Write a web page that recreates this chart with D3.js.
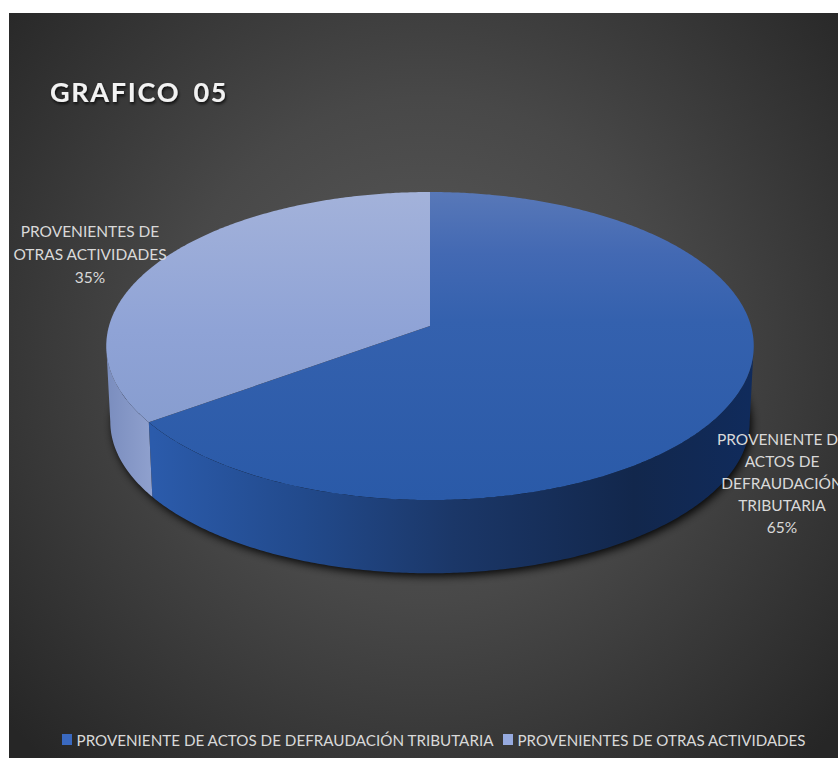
<!DOCTYPE html>
<html>
<head>
<meta charset="utf-8">
<script src="https://d3js.org/d3.v7.min.js"></script>
<style>
  html, body { margin: 0; padding: 0; background: #fff; }
  svg { display: block; }
  text { font-family: Lato, "Open Sans", sans-serif; }
</style>
</head>
<body>
<svg id="chart" width="838" height="758"></svg>
<script>
// data
var categories = ["PROVENIENTE DE ACTOS DE DEFRAUDACIÓN TRIBUTARIA", "PROVENIENTES DE OTRAS ACTIVIDADES"]
var values = [65, 35]
var sliceLabels = [
  ["PROVENIENTE DE", "ACTOS DE", "DEFRAUDACIÓN", "TRIBUTARIA", "65%"],
  ["PROVENIENTES DE", "OTRAS ACTIVIDADES", "35%"]
]
var titleText = "GRAFICO 05"

var svg = d3.select("#chart")
var defs = svg.append("defs")

function make_gradient(id, stops, x1, y1, x2, y2) {
  var g = defs.append("linearGradient")
    .attr("id", id)
    .attr("gradientUnits", "userSpaceOnUse")
    .attr("x1", x1).attr("y1", y1).attr("x2", x2).attr("y2", y2)
  stops.forEach(function(s) {
    g.append("stop").attr("offset", s[0]).attr("stop-color", s[1])
  })
}

make_gradient("topA", [[0, "#5878b8"], [0.2, "#4369b3"], [0.42, "#3461ae"], [1, "#2a5aa8"]], 0, 192, 0, 500)
make_gradient("topB", [[0, "#a3b2da"], [0.45, "#8fa3d6"], [1, "#8198ca"]], 0, 192, 0, 500)
make_gradient("sideA", [[0, "#2b5bab"], [0.25, "#224a8c"], [0.5, "#1b3768"], [0.8, "#12274c"], [1, "#102b5c"]], 153, 0, 754, 0)
make_gradient("sideB", [[0, "#7a8dbe"], [1, "#92a3d0"]], 106, 0, 158, 0)

var bg = defs.append("radialGradient")
  .attr("id", "bg")
  .attr("gradientUnits", "userSpaceOnUse")
  .attr("cx", 425).attr("cy", 350).attr("r", 560)
bg.append("stop").attr("offset", 0).attr("stop-color", "#5a5a5a")
bg.append("stop").attr("offset", 0.45).attr("stop-color", "#484848")
bg.append("stop").attr("offset", 1).attr("stop-color", "#262626")

defs.append("filter").attr("id", "blur")
  .attr("x", "-10%").attr("y", "-10%").attr("width", "120%").attr("height", "120%")
  .append("feGaussianBlur").attr("stdDeviation", 4)

var titleShadow = defs.append("filter").attr("id", "titleShadow")
titleShadow.append("feDropShadow")
  .attr("dx", 1).attr("dy", 2).attr("stdDeviation", 1.5)
  .attr("flood-color", "#000").attr("flood-opacity", 0.8)

svg.append("rect")
  .attr("x", 9).attr("y", 13)
  .attr("width", 829).attr("height", 745)
  .attr("fill", "url(#bg)")

// scales
var color = d3.scaleOrdinal().domain(categories).range(["A", "B"])
var legendColor = d3.scaleOrdinal().domain(categories).range(["#3a69c0", "#96aadf"])
var pie = d3.pie().sort(null).value(function(d) { return d.value })
var slices = pie(categories.map(function(c, i) { return {name: c, value: values[i]} }))

// perspective projection of the disc, angle 0 at the back, going clockwise
var cx = 430, cy = 326, persp = 0.13
var topDisc = {w: 321, h: 151.4, dy: 0}
var lowDisc = {w: 317, h: 149, dy: 76}

function project(a, disc) {
  var s = 1 + persp * Math.cos(a)
  return [cx + disc.w * Math.sin(a) / s, cy + disc.dy - disc.h * Math.cos(a) / s]
}

function arc_points(a0, a1, disc) {
  var n = Math.ceil(Math.abs(a1 - a0) / 0.01)
  return d3.range(n + 1).map(function(i) {
    return project(a0 + (a1 - a0) * i / n, disc)
  })
}

var line = d3.line()

// only the front of the wall is seen, between the two silhouette angles
var frontStart = Math.acos(-persp)
var frontEnd = 2 * Math.PI - frontStart

// shadow under the pie, pushed a bit to the right as in the original
svg.append("path")
  .attr("d", line(arc_points(0, 2 * Math.PI, lowDisc)) + "Z")
  .attr("fill", "#000")
  .attr("opacity", 0.9)
  .attr("filter", "url(#blur)")
  .attr("transform", "translate(2,3)")

// sides
svg.selectAll(".side")
  .data(slices)
  .enter()
  .append("path")
  .attr("class", "side")
  .attr("fill", function(d) { return "url(#side" + color(d.data.name) + ")" })
  .attr("d", function(d) {
    var a0 = Math.max(d.startAngle, frontStart)
    var a1 = Math.min(d.endAngle, frontEnd)
    var upper = arc_points(a0, a1, topDisc)
    var lower = arc_points(a1, a0, lowDisc)
    return line(upper.concat(lower)) + "Z"
  })

// top faces
svg.selectAll(".face")
  .data(slices)
  .enter()
  .append("path")
  .attr("class", "face")
  .attr("fill", function(d) { return "url(#top" + color(d.data.name) + ")" })
  .attr("d", function(d) {
    var pts = [[cx, cy]].concat(arc_points(d.startAngle, d.endAngle, topDisc))
    return line(pts) + "Z"
  })

// title
svg.append("text")
  .attr("x", 50).attr("y", 102)
  .attr("font-size", 27).attr("font-weight", 700)
  .attr("letter-spacing", 1.7)
  .attr("word-spacing", 5)
  .attr("fill", "#f2f2f2")
  .attr("filter", "url(#titleShadow)")
  .text(titleText)

// slice labels
var labelAnchors = [{x: 782, y: 445, step: 22}, {x: 90, y: 237, step: 23}]
sliceLabels.forEach(function(lines, i) {
  svg.append("g")
    .selectAll("text")
    .data(lines)
    .enter()
    .append("text")
    .attr("x", labelAnchors[i].x)
    .attr("y", function(d, j) { return labelAnchors[i].y + j * labelAnchors[i].step })
    .attr("text-anchor", "middle")
    .attr("font-size", 15.5)
    .attr("fill", "#d9d9d9")
    .text(function(d) { return d })
})

// legend
var legendX = [62, 503]
var legendWidth = [417, 288]
var legend = svg.selectAll(".legend")
  .data(categories)
  .enter()
  .append("g")
  .attr("class", "legend")
  .attr("transform", function(d, i) { return "translate(" + legendX[i] + ",746)" })

legend.append("rect")
  .attr("x", 0).attr("y", -12)
  .attr("width", 10).attr("height", 11)
  .attr("fill", function(d) { return legendColor(d) })

legend.append("text")
  .attr("x", 14.5).attr("y", 0)
  .attr("font-size", 16)
  .attr("textLength", function(d, i) { return legendWidth[i] })
  .attr("lengthAdjust", "spacingAndGlyphs")
  .attr("fill", "#d9d9d9")
  .text(function(d) { return d })
</script>
</body>
</html>
